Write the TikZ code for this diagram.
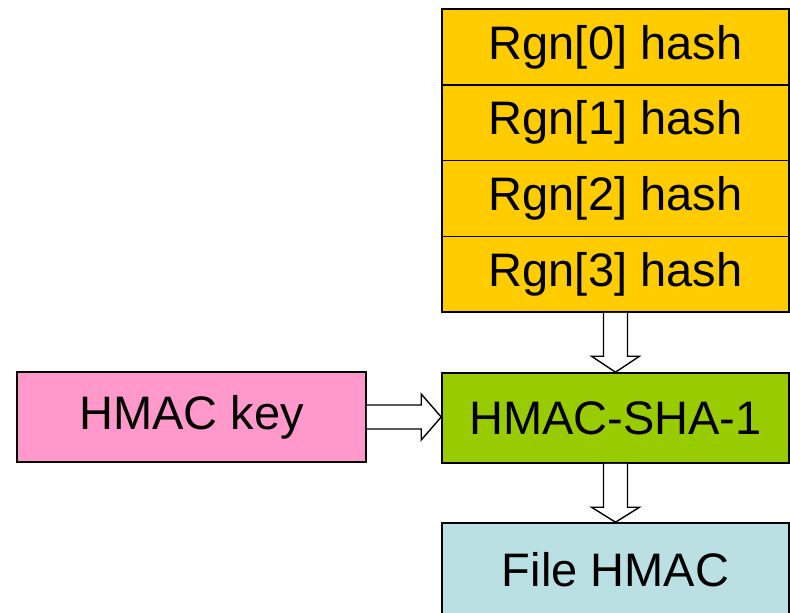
\documentclass[tikz,border=0pt]{standalone}
\usepackage{fontspec}
\setmainfont{Liberation Sans}
\usetikzlibrary{calc}
\definecolor{gold}{HTML}{FFCC00}
\definecolor{lime}{HTML}{99CC00}
\definecolor{pinkbox}{HTML}{FF99CC}
\definecolor{bluebox}{HTML}{BBE0E3}
\tikzset{
  box/.style={draw=black, line width=1.6pt, minimum width=347pt, inner sep=0pt,
    font=\fontsize{47}{50}\selectfont, text=black},
  blockarrow/.style={draw=black, line width=1.4pt, fill=white, line join=miter}
}
\begin{document}
\begin{tikzpicture}[x=1pt,y=1pt]
\useasboundingbox (0,0) rectangle (790,-613);
\clip (0,0) rectangle (790,-613);
\fill[white] (0,0) rectangle (790,-613);
\node[box, fill=gold, minimum height=75.75pt] (r0) at (615.5,-47) {Rgn[0] hash};
\node[box, fill=gold, minimum height=75.75pt] (r1) at (615.5,-122.75) {Rgn[1] hash};
\node[box, fill=gold, minimum height=75.75pt] (r2) at (615.5,-198.5) {Rgn[2] hash};
\node[box, fill=gold, minimum height=75.75pt] (r3) at (615.5,-274.25) {Rgn[3] hash};
\node[box, fill=lime, minimum height=90pt] (sha) at (615.5,-418) {HMAC-SHA-1};
\node[box, fill=pinkbox, minimum height=90pt, minimum width=349pt] (key) at (191.5,-417) {HMAC key};
\node[box, fill=bluebox, minimum height=94pt] (file) at (615.5,-570) {File HMAC};
% vertical block arrow r3 -> sha
\draw[blockarrow] ($(r3.south)+(-12,0)$) -- ($(sha.north)+(-12,16)$) -- ($(sha.north)+(-24,16)$)
  -- (sha.north) -- ($(sha.north)+(24,16)$) -- ($(sha.north)+(12,16)$) -- ($(r3.south)+(12,0)$);
% vertical block arrow sha -> file
\draw[blockarrow] ($(sha.south)+(-12,0)$) -- ($(file.north)+(-12,15)$) -- ($(file.north)+(-24,15)$)
  -- (file.north) -- ($(file.north)+(24,15)$) -- ($(file.north)+(12,15)$) -- ($(sha.south)+(12,0)$);
% horizontal block arrow key -> sha
\coordinate (tip) at (sha.west |- key.east);
\draw[blockarrow] ($(key.east)+(0,12)$) -- ($(tip)+(-20,12)$) -- ($(tip)+(-20,23)$)
  -- (tip) -- ($(tip)+(-20,-23)$) -- ($(tip)+(-20,-12)$) -- ($(key.east)+(0,-12)$);
\end{tikzpicture}
\end{document}
